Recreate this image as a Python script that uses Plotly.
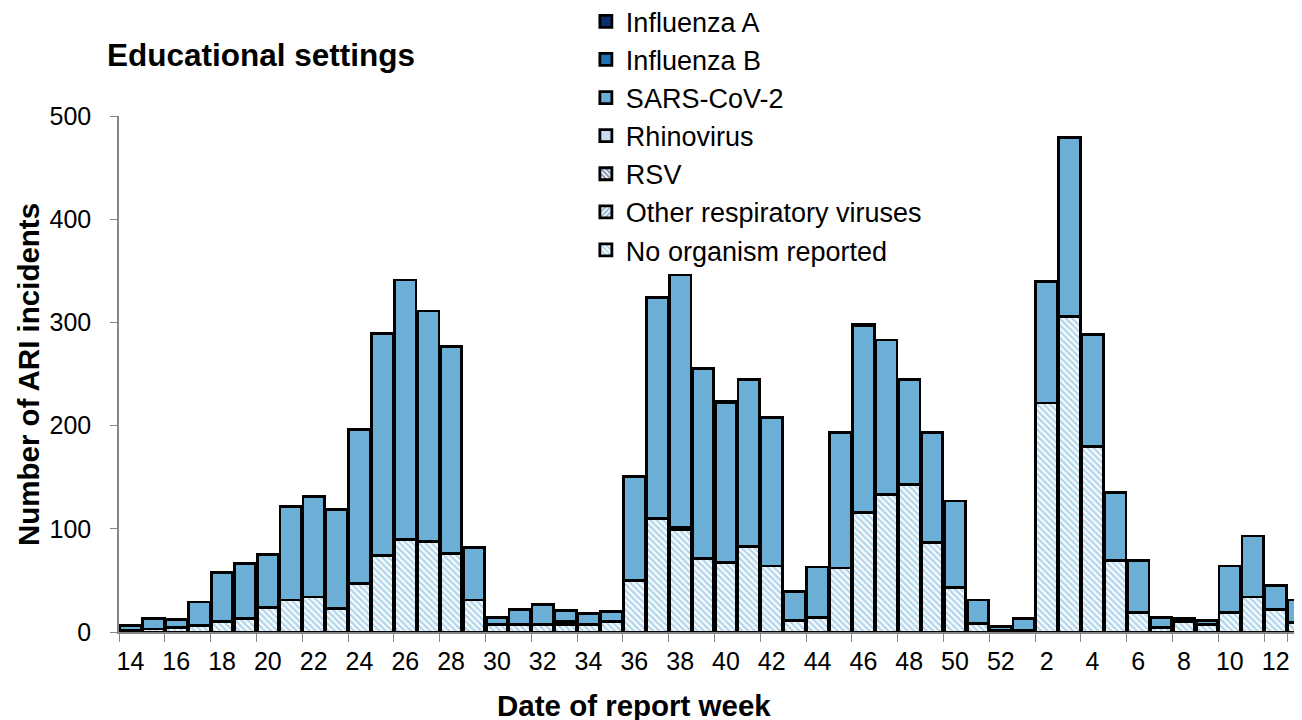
import plotly.graph_objects as go

# ── Dados ─────────────────────────────────────────────────────────────────────
WEEKS = [str(w) for w in range(14, 53)] + [str(w) for w in range(1, 14)]

NO_ORGANISM = [2, 3, 4, 6, 10, 13, 24, 31, 34, 23, 47, 74, 90, 88, 76, 31,
               7, 7, 7, 7, 7, 10, 50, 110, 99, 71, 67, 83, 64, 11, 14, 62,
               116, 133, 143, 87, 43, 8, 2,
               2, 222, 306, 180, 69, 19, 4, 10, 7, 19, 34, 22, 9]
OTHER_RESP = [0, 0, 0, 0, 0, 0, 0, 0, 0, 0, 0, 0, 0, 0, 0, 0,
              0, 0, 0, 3, 0, 0, 0, 0, 2, 0, 0, 0, 0, 0, 0, 0,
              0, 0, 0, 0, 0, 0, 0,
              0, 0, 0, 0, 0, 0, 0, 0, 0, 0, 0, 0, 0]
RSV = [0] * 52
RHINO = [0] * 52
SARS = [4, 10, 8, 23, 48, 53, 51, 91, 97, 96, 149, 215, 251, 223, 201, 51,
        7, 15, 20, 11, 11, 10, 101, 214, 245, 184, 155, 162, 144, 28, 49, 131,
        181, 150, 102, 106, 84, 23, 3,
        11, 118, 173, 108, 66, 50, 10, 3, 4, 45, 59, 23, 22]
FLU_B = [0] * 52
FLU_A = [0] * 52
FLU_A[32] = 1
FLU_A[26] = 1

# ── Estilos ───────────────────────────────────────────────────────────────────
FONT = "Liberation Sans"
OUTLINE = dict(color="#000000", width=2.8)

series = [
    ("No organism reported", NO_ORGANISM,
     dict(color="#ffffff", pattern=dict(shape="\\", fgcolor="#6BAED6", bgcolor="#ffffff", size=4.5, solidity=0.55))),
    ("Other respiratory viruses", OTHER_RESP,
     dict(color="#ffffff", pattern=dict(shape="/", fgcolor="#2171B5", bgcolor="#ffffff", size=4.5, solidity=0.55))),
    ("RSV", RSV,
     dict(color="#ffffff", pattern=dict(shape="\\", fgcolor="#08306B", bgcolor="#ffffff", size=4.5, solidity=0.55))),
    ("Rhinovirus", RHINO, dict(color="#C6DBEF")),
    ("SARS-CoV-2", SARS, dict(color="#6BAED6")),
    ("Influenza B", FLU_B, dict(color="#2171B5")),
    ("Influenza A", FLU_A, dict(color="#08306B")),
]

fig = go.Figure()
for name, vals, mk in series:
    fig.add_trace(go.Bar(
        x=WEEKS, y=vals, name=name,
        marker=dict(**mk, line=OUTLINE),
    ))

# a página tem 8 px de margem no body: compensar nas margens
fig.update_layout(
    barmode="stack",
    bargap=0.06,
    width=1302, height=720,
    margin=dict(l=111, r=0, t=108, b=96, autoexpand=False),
    paper_bgcolor="#ffffff",
    plot_bgcolor="#ffffff",
    font=dict(family=FONT, size=25, color="#000000"),
    showlegend=True,
    legend=dict(
        x=0.392, y=1.230, xanchor="left", yanchor="top",
        traceorder="reversed",
        font=dict(size=27),
        itemwidth=30,
        bgcolor="rgba(0,0,0,0)",
    ),
    xaxis=dict(
        type="category",
        range=[-0.5, 51.5],
        tickmode="array",
        tickvals=WEEKS[::2],
        tickson="boundaries",
        tickangle=0,
        ticks="outside", ticklen=8, tickcolor="#868686",
        showline=True, linecolor="#868686", linewidth=1.5,
        showgrid=False,
        tickfont=dict(size=25),
        ticklabelstandoff=6,
    ),
    yaxis=dict(
        range=[0, 500],
        tickvals=[0, 100, 200, 300, 400, 500],
        ticks="outside", ticklen=7, tickcolor="#868686",
        showline=True, linecolor="#868686", linewidth=1.5,
        showgrid=False, zeroline=False,
        tickfont=dict(size=25),
        ticklabelstandoff=14,
    ),
    annotations=[
        dict(text="<b>Educational settings</b>", xref="paper", yref="paper",
             x=-0.0118, y=1.118, xanchor="left", yanchor="middle",
             showarrow=False, font=dict(size=31.5)),
        dict(text="<b>Number of ARI incidents</b>", xref="paper", yref="paper",
             x=-0.0764, y=0.498, xanchor="center", yanchor="middle", textangle=-90,
             showarrow=False, font=dict(size=29.5)),
        dict(text="<b>Date of report week</b>", xref="paper", yref="paper",
             x=0.432, y=-0.1415, xanchor="center", yanchor="middle",
             showarrow=False, font=dict(size=29.5)),
    ],
)

fig.write_html("out.html")
